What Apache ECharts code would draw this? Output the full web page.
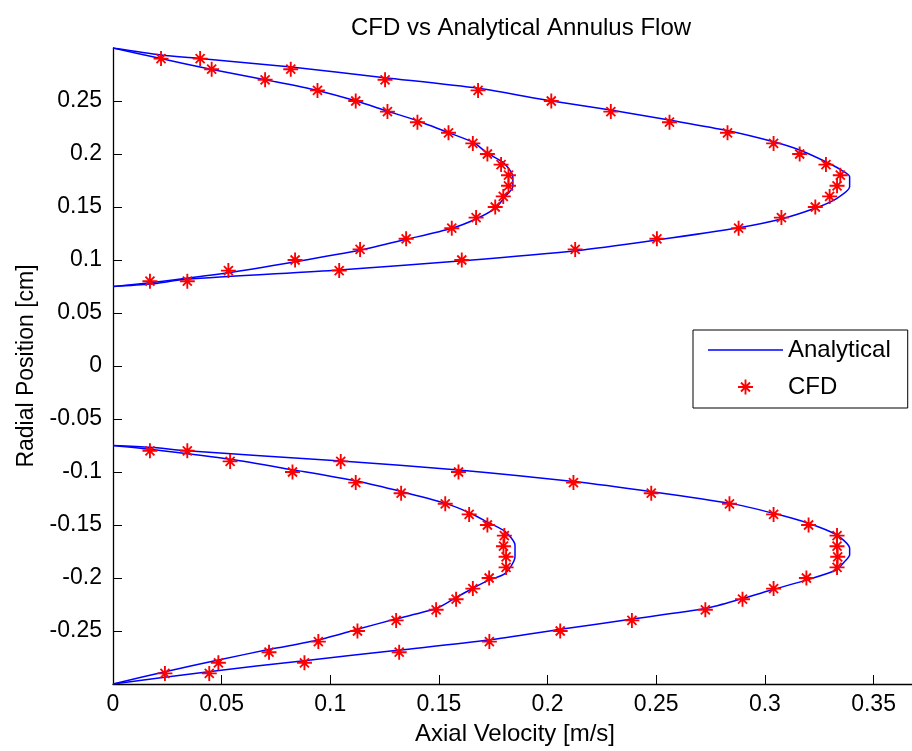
<!DOCTYPE html>
<html>
<head>
<meta charset="utf-8">
<script src="https://cdn.jsdelivr.net/npm/echarts@6/dist/echarts.min.js"></script>
<style>
  html, body { margin: 0; padding: 0; background: #fff; }
  #chart { width: 912px; height: 751px; }
</style>
</head>
<body>
<div id="chart"></div>
<script>
  // analytical profiles: velocity [m/s] vs radial position [cm]
  var upperOuterU = [0, 0.022, 0.040, 0.082, 0.125, 0.168, 0.202, 0.229, 0.256, 0.283, 0.304, 0.316, 0.328, 0.335, 0.339, 0.339, 0.333, 0.323, 0.308, 0.288, 0.250, 0.213, 0.161, 0.104, 0.034, 0.017, 0]
  var upperOuterR = [0.300, 0.2934, 0.290, 0.282, 0.272, 0.262, 0.250, 0.2415, 0.232, 0.222, 0.2116, 0.2038, 0.1927, 0.185, 0.1786, 0.169, 0.158, 0.1488, 0.139, 0.1305, 0.1189, 0.1088, 0.0993, 0.0906, 0.0818, 0.0773, 0.075]

  var upperInnerU = [0, 0.022, 0.045, 0.070, 0.094, 0.112, 0.126, 0.140, 0.154, 0.166, 0.172, 0.180, 0.184, 0.184, 0.1805, 0.176, 0.167, 0.156, 0.135, 0.114, 0.084, 0.053, 0.017, 0]
  var upperInnerR = [0.300, 0.290, 0.280, 0.270, 0.260, 0.250, 0.2406, 0.2314, 0.2205, 0.2107, 0.2012, 0.1912, 0.1786, 0.169, 0.160, 0.149, 0.1387, 0.130, 0.1195, 0.1094, 0.0984, 0.088, 0.0786, 0.075]

  var lowerOuterU = [0, 0.017, 0.034, 0.105, 0.159, 0.212, 0.248, 0.284, 0.304, 0.320, 0.333, 0.339, 0.339, 0.336, 0.333, 0.319, 0.304, 0.290, 0.273, 0.239, 0.206, 0.173, 0.132, 0.088, 0.044, 0]
  var lowerOuterR = [-0.075, -0.0767, -0.080, -0.0896, -0.098, -0.109, -0.1186, -0.1296, -0.139, -0.1484, -0.1594, -0.172, -0.178, -0.186, -0.1925, -0.202, -0.2107, -0.2192, -0.2286, -0.2387, -0.2484, -0.2585, -0.268, -0.278, -0.2884, -0.300]

  var lowerInnerU = [0, 0.017, 0.054, 0.083, 0.112, 0.133, 0.153, 0.164, 0.172, 0.1805, 0.185, 0.185, 0.1805, 0.173, 0.166, 0.158, 0.149, 0.130, 0.1125, 0.0945, 0.072, 0.0485, 0.024, 0]
  var lowerInnerR = [-0.075, -0.0786, -0.088, -0.098, -0.1085, -0.1186, -0.1296, -0.1384, -0.1469, -0.1563, -0.169, -0.180, -0.1956, -0.202, -0.2092, -0.2183, -0.2286, -0.2387, -0.2484, -0.2585, -0.2673, -0.2774, -0.2884, -0.300]

  // CFD samples
  var cfdUpperR = [0.08, 0.09, 0.10, 0.11, 0.12, 0.13, 0.14, 0.15, 0.16, 0.17, 0.18, 0.19, 0.20, 0.21, 0.22, 0.23, 0.24, 0.25, 0.26, 0.27, 0.28, 0.29]
  var cfdLowerR = [-0.08, -0.09, -0.10, -0.11, -0.12, -0.13, -0.14, -0.15, -0.16, -0.17, -0.18, -0.19, -0.20, -0.21, -0.22, -0.23, -0.24, -0.25, -0.26, -0.27, -0.28, -0.29]
  var cfdUpperInner = [0.0170, 0.0531, 0.0838, 0.1137, 0.1349, 0.1559, 0.1671, 0.1759, 0.1796, 0.1820, 0.1820, 0.1786, 0.1723, 0.1656, 0.1544, 0.1401, 0.1263, 0.1117, 0.0941, 0.0700, 0.0454, 0.0221]
  var cfdUpperOuter = [0.0342, 0.1041, 0.1605, 0.2127, 0.2503, 0.2879, 0.3076, 0.3232, 0.3298, 0.3332, 0.3347, 0.3281, 0.3160, 0.3040, 0.2828, 0.2561, 0.2291, 0.2017, 0.1680, 0.1252, 0.0818, 0.0401]
  var cfdLowerInner = [0.0170, 0.0539, 0.0826, 0.1117, 0.1326, 0.1529, 0.1639, 0.1723, 0.1801, 0.1797, 0.1809, 0.1809, 0.1731, 0.1656, 0.1579, 0.1487, 0.1303, 0.1125, 0.0945, 0.0718, 0.0485, 0.0239]
  var cfdLowerOuter = [0.0342, 0.1048, 0.1590, 0.2119, 0.2477, 0.2837, 0.3040, 0.3201, 0.3332, 0.3332, 0.3335, 0.3332, 0.3191, 0.3040, 0.2897, 0.2726, 0.2388, 0.2058, 0.1732, 0.1317, 0.0881, 0.0443]

  var FONT = 'Liberation Sans, Arial, sans-serif'
  // matlab style '*' marker: plus + cross + centre dot
  var STAR = 'path://M7 0H9V16H7Z M0 7H16V9H0Z M3.9 2.5L13.5 12.1L12.1 13.5L2.5 3.9Z M12.1 2.5L13.5 3.9L3.9 13.5L2.5 12.1Z M5.5 5.5H10.5V10.5H5.5Z'
  var LINE_ICON = 'path://M0 0H75V1.5H0Z'

  function pairs(us, rs) {
    var out = []
    for (var i = 0; i < us.length; i++) out.push([us[i], rs[i]])
    return out
  }

  function lineSeries(us, rs) {
    return {
      name: 'Analytical',
      type: 'line',
      data: pairs(us, rs),
      symbol: 'none',
      smooth: 0.25,
      lineStyle: { color: '#0000ff', width: 1.5 },
      itemStyle: { color: '#0000ff' },
      z: 2
    }
  }

  var cfdData = pairs(cfdUpperInner, cfdUpperR)
    .concat(pairs(cfdUpperOuter, cfdUpperR))
    .concat(pairs(cfdLowerInner, cfdLowerR))
    .concat(pairs(cfdLowerOuter, cfdLowerR))

  var chart = echarts.init(document.getElementById('chart'), null, { renderer: 'canvas' })

  var option = {
    backgroundColor: '#ffffff',
    animation: false,
    title: {
      text: 'CFD vs Analytical Annulus Flow',
      left: 516,
      textAlign: 'center',
      top: 11,
      textStyle: { fontFamily: FONT, fontSize: 24, fontWeight: 'normal', color: '#000' }
    },
    legend: {
      orient: 'vertical',
      left: 693,
      top: 330,
      padding: [8, 17, 9, 15],
      itemGap: 13,
      itemWidth: 75,
      itemHeight: 15,
      backgroundColor: '#fff',
      borderColor: '#000',
      borderWidth: 1,
      borderRadius: 0,
      textStyle: { fontFamily: FONT, fontSize: 24, color: '#000' },
      data: [
        { name: 'Analytical', icon: LINE_ICON, itemStyle: { color: '#0000ff' } },
        { name: 'CFD', icon: STAR, itemStyle: { color: '#ff0000' } }
      ]
    },
    grid: {
      left: 113,
      top: 48,
      width: 804,
      height: 636,
      containLabel: false,
      outerBoundsMode: 'none'
    },
    xAxis: {
      type: 'value',
      min: 0,
      max: 0.37,
      interval: 0.05,
      name: 'Axial Velocity [m/s]',
      nameLocation: 'middle',
      nameGap: 38,
      nameTextStyle: { fontFamily: FONT, fontSize: 24, color: '#000' },
      axisLine: { show: true, onZero: false, lineStyle: { color: '#000', width: 1.3 } },
      axisTick: { show: true, inside: true, length: 9, lineStyle: { color: '#000' } },
      axisLabel: { fontFamily: FONT, fontSize: 23, color: '#000', margin: 9, showMaxLabel: false },
      splitLine: { show: false }
    },
    yAxis: {
      type: 'value',
      min: -0.3,
      max: 0.3,
      interval: 0.05,
      name: 'Radial Position [cm]',
      nameLocation: 'middle',
      nameGap: 75,
      nameTextStyle: { fontFamily: FONT, fontSize: 23, color: '#000' },
      axisLine: { show: true, onZero: false, lineStyle: { color: '#000', width: 1.3 } },
      axisTick: { show: true, inside: true, length: 9, lineStyle: { color: '#000' } },
      axisLabel: { fontFamily: FONT, fontSize: 23, color: '#000', margin: 11, showMinLabel: false, showMaxLabel: false },
      splitLine: { show: false }
    },
    series: [
      lineSeries(upperOuterU, upperOuterR),
      lineSeries(upperInnerU, upperInnerR),
      lineSeries(lowerOuterU, lowerOuterR),
      lineSeries(lowerInnerU, lowerInnerR),
      {
        name: 'CFD',
        type: 'scatter',
        data: cfdData,
        symbol: STAR,
        symbolSize: 15,
        itemStyle: { color: '#ff0000', opacity: 1 },
        z: 3
      }
    ]
  }

  chart.setOption(option)
</script>
</body>
</html>
